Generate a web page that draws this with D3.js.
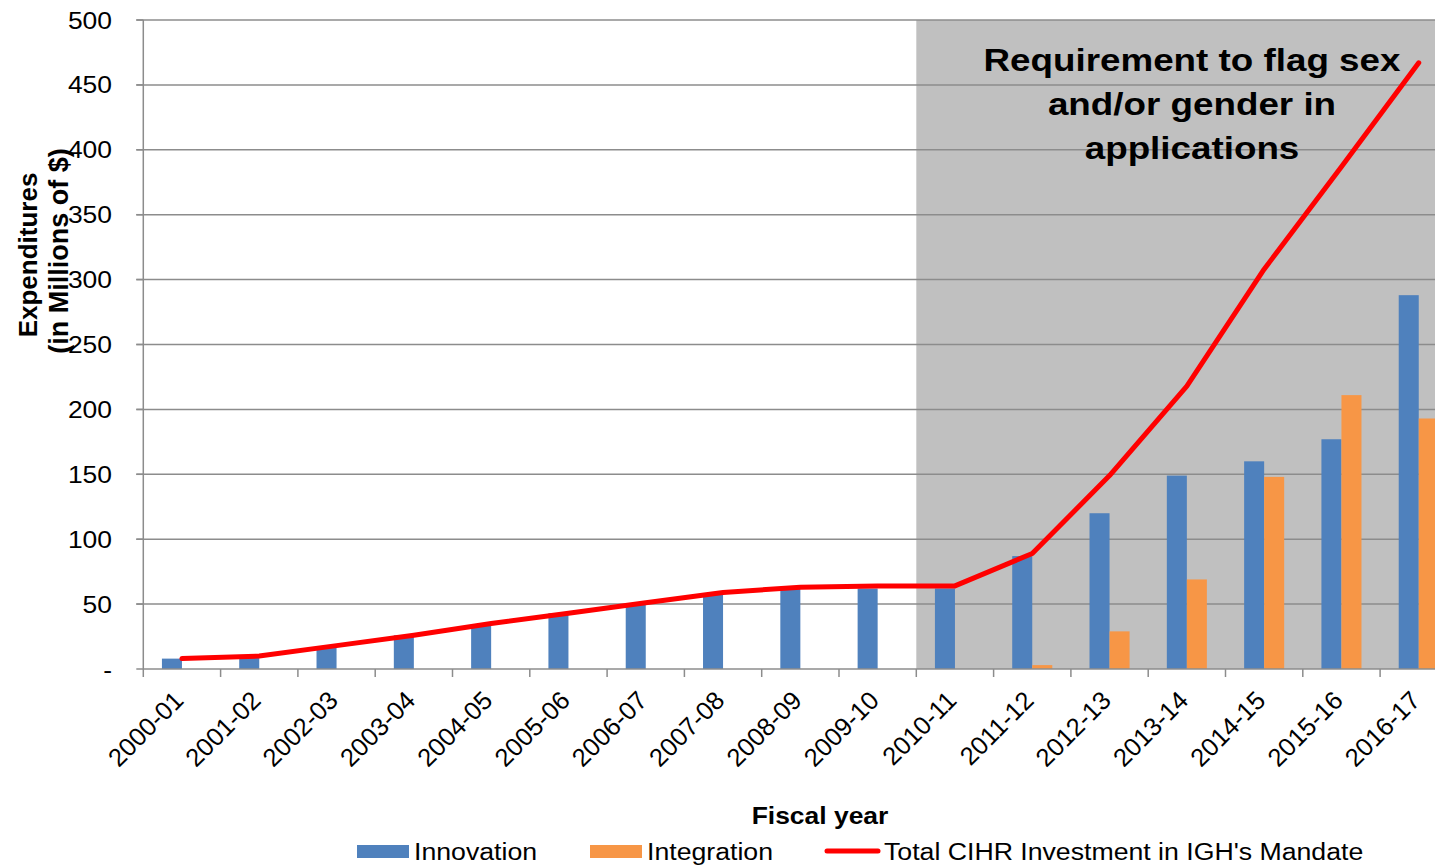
<!DOCTYPE html>
<html>
<head>
<meta charset="utf-8">
<script src="https://cdn.jsdelivr.net/npm/d3@7"></script>
<style>
  html, body { margin: 0; padding: 0; background: #fff; overflow: hidden; }
  svg { display: block; font-family: "Liberation Sans", Arial, sans-serif; }
</style>
</head>
<body>
<svg id="chart" width="1435" height="865"></svg>
<script>
const categories = ["2000-01","2001-02","2002-03","2003-04","2004-05","2005-06","2006-07","2007-08","2008-09","2009-10","2010-11","2011-12","2012-13","2013-14","2014-15","2015-16","2016-17"];
const innovation = [8, 10, 17, 26, 34, 43, 50, 58, 62, 62, 62, 87, 120, 149, 160, 177, 288];
const integration = [0, 0, 0, 0, 0, 0, 0, 0, 0, 0, 0, 3, 29, 69, 148, 211, 193];
const total = [8, 10, 18, 26, 35, 43, 51, 59, 63, 64, 64, 89, 149, 218, 308, 387, 467];
const yTicks = [0, 50, 100, 150, 200, 250, 300, 350, 400, 450, 500];
const seriesNames = ["Innovation", "Integration"];
const highlightStart = "2010-11";
const annotationLines = ["Requirement to flag sex", "and/or gender in", "applications"];

const colors = { Innovation: "#4f81bd", Integration: "#f79646", total: "#ff0000" };
const SX = 1.15; // horizontal stretch of text

const svg = d3.select("#chart");
const mLeft = 143.3, mTop = 20, mBottom = 669, step = 77.3;
const x = d3.scaleBand().domain(categories).range([mLeft, mLeft + step * categories.length]).paddingInner(0).paddingOuter(0);
const y = d3.scaleLinear().domain([0, 500]).range([mBottom, mTop]);
const xs = d3.scaleBand().domain(seriesNames).range([0, x.bandwidth()]).paddingInner(0).paddingOuter(0.93);
const plotRight = x.range()[1];

// highlighted background
svg.append("rect")
  .attr("x", x(highlightStart)).attr("y", y(500))
  .attr("width", plotRight - x(highlightStart)).attr("height", y(0) - y(500))
  .attr("fill", "#c0c0c0");

// gridlines
svg.append("g").selectAll("line").data(yTicks.filter(d => d > 0)).join("line")
  .attr("x1", mLeft - 7).attr("x2", plotRight)
  .attr("y1", d => y(d)).attr("y2", d => y(d))
  .attr("stroke", "#8c8c8c").attr("stroke-width", 1.5);

// y axis line and ticks
svg.append("line").attr("x1", mLeft).attr("x2", mLeft).attr("y1", y(500)).attr("y2", y(0))
  .attr("stroke", "#8c8c8c").attr("stroke-width", 1.5);
svg.append("g").selectAll("line").data(yTicks).join("line")
  .attr("x1", mLeft - 7).attr("x2", mLeft).attr("y1", d => y(d)).attr("y2", d => y(d))
  .attr("stroke", "#8c8c8c").attr("stroke-width", 1.5);
svg.append("g").selectAll("text").data(yTicks).join("text")
  .attr("transform", d => `translate(112,${y(d) + 8.5}) scale(${SX},1)`)
  .attr("text-anchor", "end").attr("font-size", 23).attr("fill", "#000")
  .text(d => d === 0 ? "-" : d);

// bars
const groups = svg.append("g").selectAll("g").data(categories).join("g")
  .attr("transform", d => `translate(${x(d)},0)`);
groups.selectAll("rect").data((d, i) => seriesNames.map(s => ({ s, v: s === "Innovation" ? innovation[i] : integration[i] })))
  .join("rect")
  .attr("x", d => xs(d.s)).attr("width", xs.bandwidth())
  .attr("y", d => y(d.v)).attr("height", d => y(0) - y(d.v))
  .attr("fill", d => colors[d.s]);

// x axis line and ticks
svg.append("line").attr("x1", mLeft).attr("x2", plotRight).attr("y1", y(0)).attr("y2", y(0))
  .attr("stroke", "#8c8c8c").attr("stroke-width", 1.5);
const tickPos = categories.map(c => x(c)).concat([plotRight]);
svg.append("g").selectAll("line").data(tickPos).join("line")
  .attr("x1", d => d).attr("x2", d => d).attr("y1", y(0)).attr("y2", y(0) + 8)
  .attr("stroke", "#8c8c8c").attr("stroke-width", 1.5);
svg.append("g").selectAll("text").data(categories).join("text")
  .attr("transform", d => `translate(${x(d) + x.bandwidth() / 2 + 3},${y(0) + 33}) rotate(-45)`)
  .attr("text-anchor", "end").attr("font-size", 25.5).attr("fill", "#000")
  .text(d => d);

// total line
const line = d3.line().x((d, i) => x(categories[i]) + x.bandwidth() / 2).y(d => y(d));
svg.append("path").datum(total).attr("d", line)
  .attr("fill", "none").attr("stroke", colors.total).attr("stroke-width", 5)
  .attr("stroke-linejoin", "round").attr("stroke-linecap", "round");

// annotation
svg.append("g").selectAll("text").data(annotationLines).join("text")
  .attr("transform", (d, i) => `translate(1192,${71 + i * 44}) scale(${SX},1)`)
  .attr("text-anchor", "middle").attr("font-size", 32).attr("font-weight", "bold").attr("fill", "#000")
  .text(d => d);

// axis titles
svg.append("text").attr("transform", `translate(820,824) scale(${SX},1)`)
  .attr("text-anchor", "middle").attr("font-size", 23).attr("font-weight", "bold").text("Fiscal year");
svg.append("text").attr("transform", "translate(37,255) rotate(-90)")
  .attr("text-anchor", "middle").attr("font-size", 26).attr("font-weight", "bold").text("Expenditures");
svg.append("text").attr("transform", "translate(68,251) rotate(-90)")
  .attr("text-anchor", "middle").attr("font-size", 27).attr("font-weight", "bold").text("(in Millions of $)");

// legend
const legY = 851;
const leg = svg.append("g");
leg.append("rect").attr("x", 357).attr("y", legY - 6).attr("width", 52).attr("height", 13).attr("fill", colors.Innovation);
leg.append("text").attr("transform", `translate(414,${legY + 9}) scale(1.16,1)`).attr("font-size", 23).text("Innovation");
leg.append("rect").attr("x", 590).attr("y", legY - 6).attr("width", 52).attr("height", 13).attr("fill", colors.Integration);
leg.append("text").attr("transform", `translate(647,${legY + 9}) scale(1.16,1)`).attr("font-size", 23).text("Integration");
leg.append("line").attr("x1", 827).attr("x2", 878).attr("y1", legY).attr("y2", legY)
  .attr("stroke", colors.total).attr("stroke-width", 5).attr("stroke-linecap", "round");
leg.append("text").attr("transform", `translate(884,${legY + 9}) scale(1.16,1)`).attr("font-size", 23).text("Total CIHR Investment in IGH's Mandate");
</script>
</body>
</html>
